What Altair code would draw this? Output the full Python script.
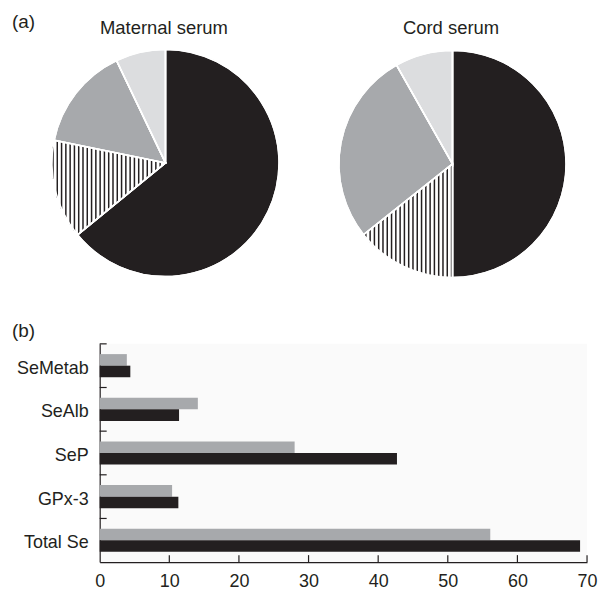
import altair as alt
import numpy as np
import pandas as pd

# ---------------- data ----------------
components = ["SeP", "GPx-3", "SeAlb", "SeMetab"]          # clockwise from 12 o'clock
maternal_pct = [64.1, 14.1, 14.7, 7.1]
cord_pct = [50.0, 14.3, 27.5, 8.2]
pie_titles = ["Maternal serum", "Cord serum"]

bar_categories = ["SeMetab", "SeAlb", "SeP", "GPx-3", "Total Se"]
series = ["Cord", "Maternal"]
cord_values = [3.9, 14.1, 28.0, 10.4, 56.1]
maternal_values = [4.4, 11.4, 42.7, 11.3, 69.0]
x_ticks = [0, 10, 20, 30, 40, 50, 60, 70]

# ---------------- style / layout ----------------
FONT = "Liberation Sans"
INK = "#231f20"
slice_colors = [INK, "#ffffff", "#a7a9ac", "#dcdddf"]
bar_colors = ["#a7a9ac", INK]
striped = "GPx-3"

W1, H1 = 576, 335          # pie row
R = 114
pie_centers = [(158, 154.5), (446, 155.5)]
LABW, BARW, BARH = 92, 489, 219


def stripe_rows(pcts, idx, cx, cy, spacing=4.3):
    total = sum(pcts)
    a0 = sum(pcts[:idx]) / total * 2 * np.pi
    a1 = sum(pcts[:idx + 1]) / total * 2 * np.pi
    th = np.linspace(a0, a1, 240)
    px = np.concatenate([[cx], cx + R * np.sin(th)])
    py = np.concatenate([[cy], cy - R * np.cos(th)])
    n = len(px)
    rows = []
    start = np.floor(px.min() / spacing) * spacing + spacing / 2
    for x0 in np.arange(start, px.max(), spacing):
        ys = []
        for i in range(n):
            x1, y1 = px[i], py[i]
            x2, y2 = px[(i + 1) % n], py[(i + 1) % n]
            if x1 != x2 and (x1 - x0) * (x2 - x0) <= 0:
                t = (x0 - x1) / (x2 - x1)
                ys.append(y1 + t * (y2 - y1))
        if len(ys) >= 2 and max(ys) - min(ys) > 0.5:
            rows.append({"x": x0, "y": min(ys), "y2": max(ys)})
    return pd.DataFrame(rows)


xsc = alt.Scale(domain=[0, W1], nice=False, zero=False)
ysc = alt.Scale(domain=[0, H1], nice=False, zero=False, reverse=True)

layers = []
for title, pcts, (cx, cy) in zip(pie_titles, [maternal_pct, cord_pct], pie_centers):
    df = pd.DataFrame({"component": components, "pct": pcts, "order": list(range(len(components)))})
    base = alt.Chart(df).encode(
        theta=alt.Theta("pct:Q", stack=True),
        order=alt.Order("order:Q"),
        x=alt.XDatum(cx, type="quantitative", scale=xsc, axis=None),
        y=alt.YDatum(cy, type="quantitative", scale=ysc, axis=None),
    )
    arcs = base.mark_arc(radius=R, stroke="white", strokeWidth=1.5).encode(
        color=alt.Color("component:N", scale=alt.Scale(domain=components, range=slice_colors), legend=None)
    )
    sdf = stripe_rows(pcts, components.index(striped), cx, cy)
    stripes = alt.Chart(sdf).mark_rule(color=INK, strokeWidth=1.5).encode(
        x=alt.X("x:Q", scale=xsc, axis=None),
        y=alt.Y("y:Q", scale=ysc, axis=None),
        y2="y2:Q",
    )
    outline = base.mark_arc(radius=R, fillOpacity=0, stroke="white", strokeWidth=1.6)
    ttl = alt.Chart(pd.DataFrame({"t": [title]})).mark_text(
        font=FONT, fontSize=18.5, color=INK, align="center", baseline="alphabetic"
    ).encode(text="t:N", x=alt.value(cx - 1.5), y=alt.value(25))
    layers += [arcs, stripes, outline, ttl]

panel_labels = alt.Chart(pd.DataFrame({"t": ["(a)", "(b)"], "yy": [19.5, 329]})).mark_text(
    font=FONT, fontSize=19, color=INK, align="left", baseline="alphabetic"
).encode(text="t:N", x=alt.value(4), y=alt.Y("yy:Q", scale=ysc, axis=None))

row1 = alt.layer(*layers, panel_labels).properties(
    width=W1, height=H1, view=alt.ViewBackground(fill="#ffffff", strokeWidth=0)
)

# ---------------- bar row ----------------
bars_df = pd.DataFrame({
    "category": bar_categories * 2,
    "series": [series[0]] * len(bar_categories) + [series[1]] * len(bar_categories),
    "value": cord_values + maternal_values,
})
yscale = alt.Scale(domain=bar_categories, paddingInner=0.47, paddingOuter=0.235)

bars = alt.Chart(bars_df).mark_bar().encode(
    x=alt.X("value:Q", scale=alt.Scale(domain=[0, 70], nice=False),
            axis=alt.Axis(values=x_ticks, ticks=False, tickSize=0, grid=False, title=None,
                          labelFont=FONT, labelFontSize=18, labelColor=INK, labelPadding=10,
                          domainColor=INK, domainWidth=1.2, labelFlush=False)),
    y=alt.Y("category:N", sort=bar_categories, scale=yscale,
            axis=alt.Axis(labels=False, ticks=False, grid=False, title=None,
                          domainColor=INK, domainWidth=1.2)),
    yOffset=alt.YOffset("series:N", sort=series, scale=alt.Scale(paddingInner=0, paddingOuter=0)),
    color=alt.Color("series:N", scale=alt.Scale(domain=series, range=bar_colors), legend=None),
)

xtick_layer = alt.Chart(pd.DataFrame({"v": x_ticks[1:]})).mark_rule(color=INK, strokeWidth=1.2).encode(
    x=alt.X("v:Q"), y=alt.value(BARH), y2=alt.value(BARH - 7)
)
ytick_layer = alt.Chart(pd.DataFrame({"c": bar_categories})).mark_rule(color=INK, strokeWidth=1.2).encode(
    y=alt.Y("c:N", sort=bar_categories, scale=alt.Scale(domain=bar_categories, paddingInner=0, paddingOuter=0),
            bandPosition=0, axis=None),
    x=alt.value(0), x2=alt.value(7),
)

bar_panel = alt.layer(bars, xtick_layer, ytick_layer).resolve_scale(y="independent").properties(
    width=BARW, height=BARH, view=alt.ViewBackground(fill="#fafafa", strokeWidth=0)
)

label_panel = alt.Chart(pd.DataFrame({"category": bar_categories})).mark_text(
    font=FONT, fontSize=18, color=INK, align="right", baseline="middle", dy=3
).encode(
    y=alt.Y("category:N", sort=bar_categories, scale=yscale, axis=None),
    x=alt.value(LABW - 11),
    text="category:N",
).properties(width=LABW, height=BARH, view=alt.ViewBackground(fill="#ffffff", strokeWidth=0))

row2 = alt.hconcat(label_panel, bar_panel, spacing=0, bounds="flush")

chart = (
    alt.vconcat(row1, row2, spacing=0)
    .resolve_scale(color="independent")
    .properties(padding=0)
    .configure_view(strokeWidth=0)
)

chart.save("out.html", embed_options={"renderer": "svg", "actions": False})
